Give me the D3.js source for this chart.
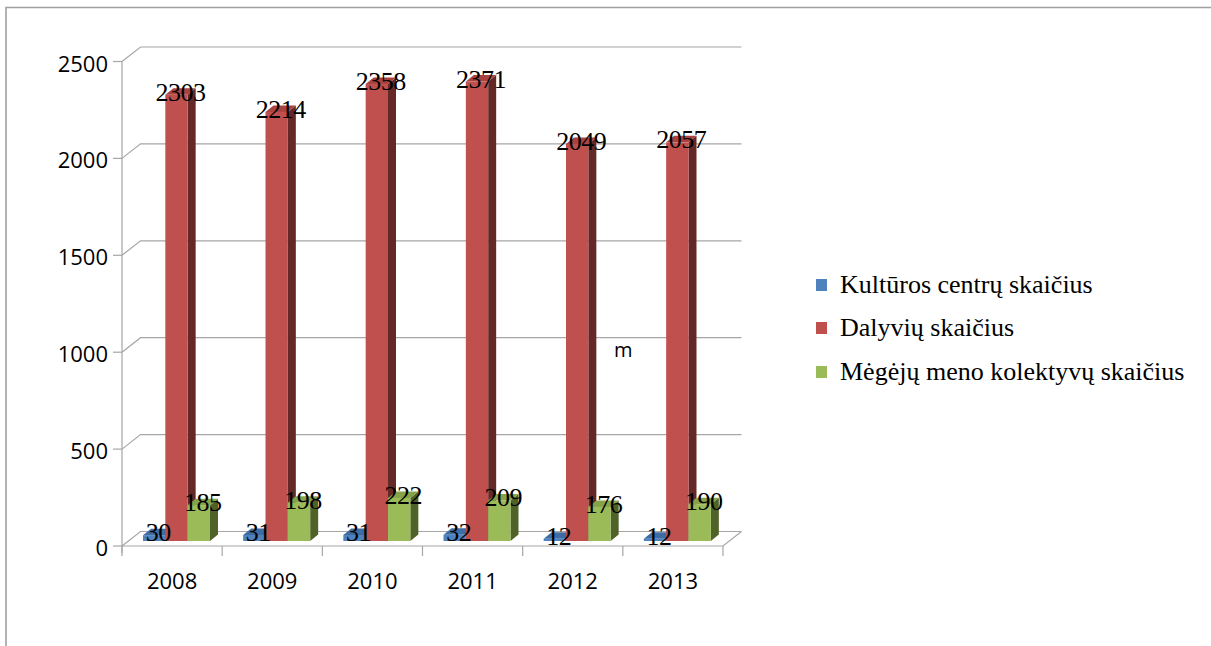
<!DOCTYPE html>
<html><head><meta charset="utf-8">
<script src="https://cdn.jsdelivr.net/npm/d3@7"></script>
<style>html,body{margin:0;padding:0;background:#fff;overflow:hidden}</style>
</head><body>
<svg id="c" width="1211" height="646"></svg>
<script>
const categories = ["2008", "2009", "2010", "2011", "2012", "2013"];
const seriesNames = ["Kultūros centrų skaičius", "Dalyvių skaičius", "Mėgėjų meno kolektyvų skaičius"];
const kulturosCentrai = [30, 31, 31, 32, 12, 12];
const dalyviai = [2303, 2214, 2358, 2371, 2049, 2057];
const kolektyvai = [185, 198, 222, 209, 176, 190];
const yTicks = [0, 500, 1000, 1500, 2000, 2500];
const seriesValues = [kulturosCentrai, dalyviai, kolektyvai];

const frontCol = ["#4F81BD", "#C0504D", "#9BBB59"];
const sideCol  = ["#2A4A72", "#642826", "#4F6228"];
const topCol   = ["#3E6CA4", "#A9433F", "#86A34A"];
const gridCol = "#a6a6a6";
const serif = "'Liberation Serif', 'Times New Roman', serif";
const sans = "'Open Sans', sans-serif";

const svg = d3.select("#c");
svg.append("rect").attr("width",1211).attr("height",646).attr("fill","#fff");
// outer border
svg.append("path").attr("d","M6,646 L6,7.5 L1211,7.5").attr("fill","none")
  .attr("stroke","#a0a0a0").attr("stroke-width",1.6);

const x0 = 122, x1 = 723;
const wallDx = 18.5, wallDy = -14.5;
const y = d3.scaleLinear().domain([0, 2500]).range([546, 61.5]);
const x = d3.scaleBand().domain(categories).range([x0, x1]).padding(0);
const inner = d3.scaleBand().domain(d3.range(3)).range([21, 88]);

// gridlines (back wall) with diagonal connectors
const g = svg.append("g");
yTicks.forEach(t => {
  const yy = y(t);
  g.append("path")
    .attr("d", `M${x0},${yy} L${x0+wallDx},${yy+wallDy} L${x1+wallDx},${yy+wallDy}`)
    .attr("fill","none").attr("stroke",gridCol).attr("stroke-width",1.2);
  g.append("line").attr("x1",x0-9).attr("x2",x0).attr("y1",yy).attr("y2",yy)
    .attr("stroke",gridCol).attr("stroke-width",1.2);
  g.append("text").attr("x",108).attr("y",yy+1).attr("text-anchor","end")
    .attr("dominant-baseline","central")
    .attr("font-family",sans).attr("font-size",22).attr("fill","#000")
    .text(t);
});
// vertical axis
g.append("line").attr("x1",x0).attr("x2",x0).attr("y1",y(2500)).attr("y2",y(0)+7)
  .attr("stroke",gridCol).attr("stroke-width",1.2);
// floor
g.append("path")
  .attr("d", `M${x0},${y(0)} L${x1},${y(0)} L${x1+wallDx},${y(0)+wallDy}`)
  .attr("fill","none").attr("stroke",gridCol).attr("stroke-width",1.2);
// category ticks
categories.forEach(c => {
  const xx = x(c);
  g.append("line").attr("x1",xx).attr("x2",xx).attr("y1",y(0)).attr("y2",y(0)+10)
    .attr("stroke",gridCol).attr("stroke-width",1.2);
});
g.append("line").attr("x1",x1).attr("x2",x1).attr("y1",y(0)).attr("y2",y(0)+10)
  .attr("stroke",gridCol).attr("stroke-width",1.2);
// category labels
categories.forEach(c => {
  g.append("text").attr("x", x(c)+x.bandwidth()/2).attr("y",589)
    .attr("text-anchor","middle")
    .attr("font-family",sans).attr("font-size",22).attr("fill","#000")
    .text(c);
});

// bars
const barBase = y(0) - 5;
const bdx = 8, bdy = -6.5;
const bw = inner.step();
const bars = svg.append("g");
const labels = svg.append("g");
categories.forEach((c, ci) => {
  seriesValues.forEach((vals, si) => {
    const v = vals[ci];
    const left = x(c) + inner(si);
    const right = left + bw;
    const top = barBase - (y(0) - y(v));
    bars.append("path")
      .attr("d", `M${right},${barBase} L${right+bdx},${barBase+bdy} L${right+bdx},${top+bdy} L${right},${top} Z`)
      .attr("fill", sideCol[si]);
    bars.append("path")
      .attr("d", `M${left},${top} L${left+bdx},${top+bdy} L${right+bdx},${top+bdy} L${right},${top} Z`)
      .attr("fill", topCol[si]);
    bars.append("rect").attr("x",left).attr("y",top).attr("width",bw).attr("height",barBase-top)
      .attr("fill", frontCol[si]);
    labels.append("text").attr("x", left + bw/2 + 4).attr("y", top + 6)
      .attr("text-anchor","middle")
      .attr("font-family",serif).attr("font-size",26)
      .attr("letter-spacing",-0.5).attr("fill","#000")
      .text(v);
  });
});

// legend
const leg = svg.append("g");
const legY = [285, 328, 372];
seriesNames.forEach((n, i) => {
  leg.append("rect").attr("x",816).attr("y",legY[i]-6).attr("width",11).attr("height",12)
    .attr("fill", frontCol[i]);
  leg.append("text").attr("x",840).attr("y",legY[i]+8)
    .attr("font-family",serif).attr("font-size",26)
    .attr("fill","#000").text(n);
});

// stray text
svg.append("text").attr("x",614).attr("y",357)
  .attr("font-family",sans).attr("font-size",20).attr("fill","#000").text("m");
</script>
</body></html>
